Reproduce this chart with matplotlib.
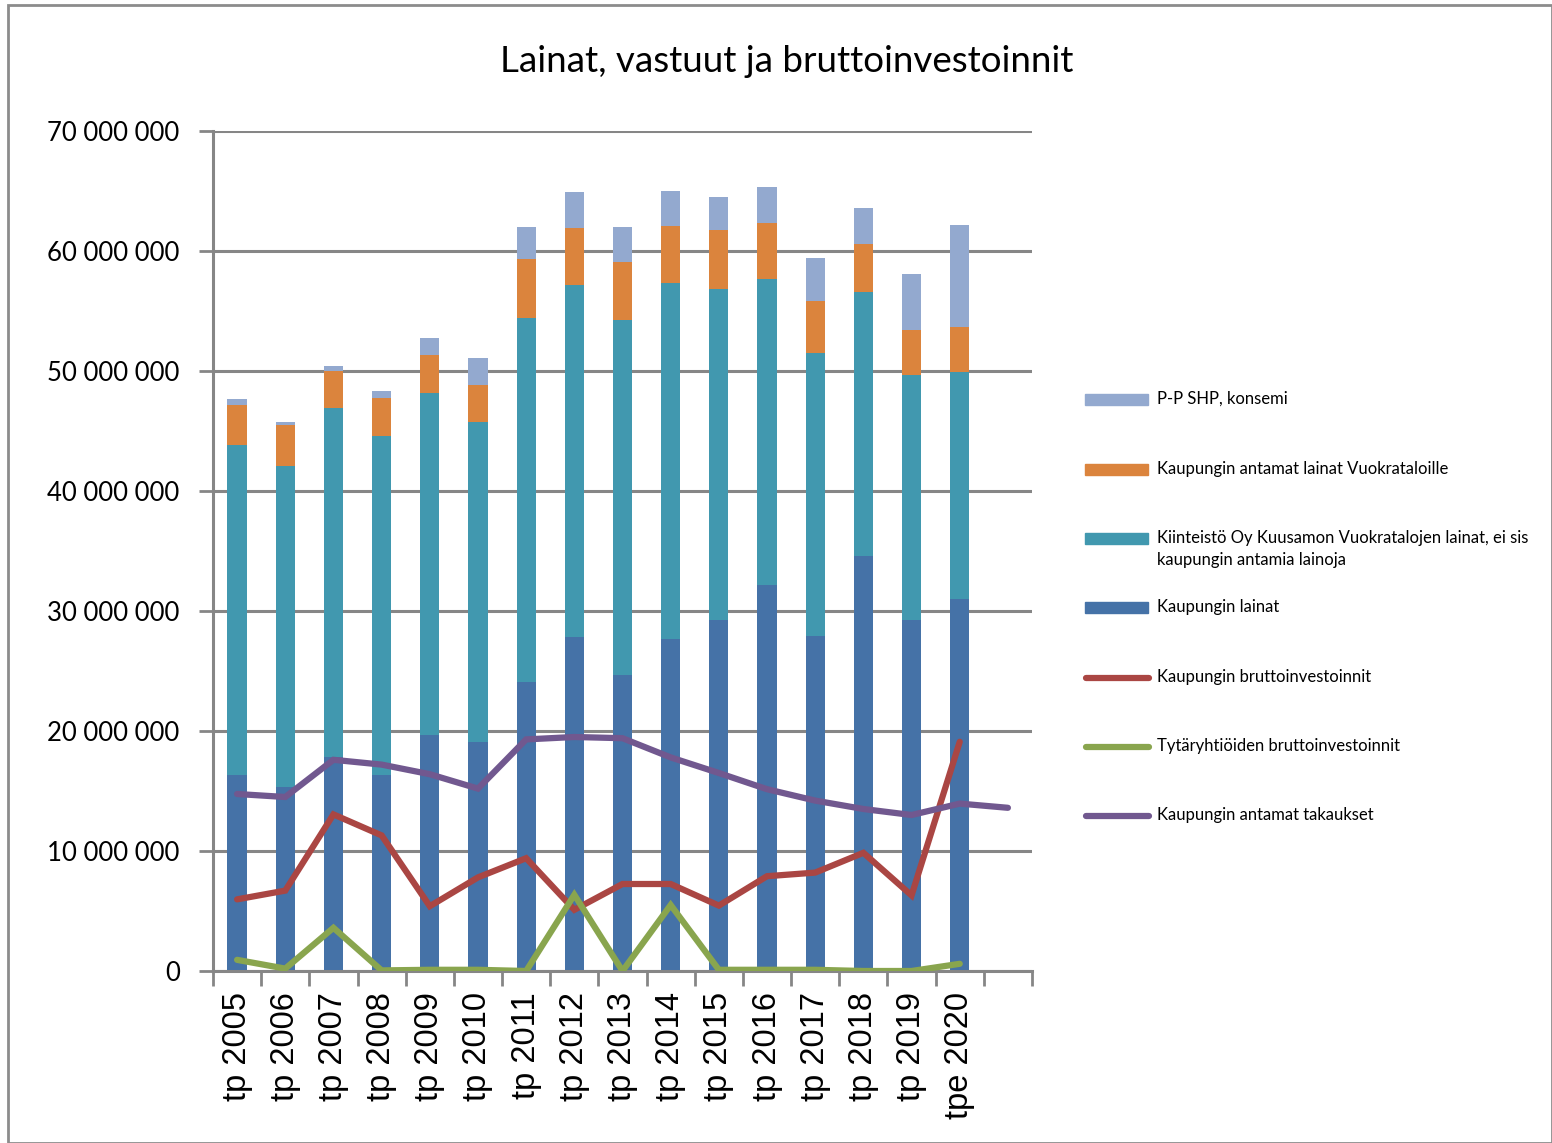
import numpy as np
import matplotlib.pyplot as plt
from matplotlib.patches import Rectangle
from matplotlib.lines import Line2D
from matplotlib.ticker import FuncFormatter, FixedLocator

# =============================================================================
# Data (values in millions of euros)
# =============================================================================
years = ['tp 2005', 'tp 2006', 'tp 2007', 'tp 2008', 'tp 2009', 'tp 2010',
         'tp 2011', 'tp 2012', 'tp 2013', 'tp 2014', 'tp 2015', 'tp 2016',
         'tp 2017', 'tp 2018', 'tp 2019', 'tpe 2020']

# stacked bar segments
kaupungin_lainat = [16.3, 15.3, 17.8, 16.3, 19.7, 19.1, 24.1, 27.8,
                    24.7, 27.65, 29.25, 32.2, 27.95, 34.6, 29.25, 31.0]
vuokratalot_lainat = [27.5, 26.8, 29.1, 28.3, 28.5, 26.65, 30.3, 29.4,
                      29.55, 29.65, 27.55, 25.5, 23.55, 22.0, 20.45, 18.9]
lainat_vuokrataloille = [3.4, 3.4, 3.1, 3.15, 3.1, 3.05, 4.9, 4.7,
                         4.85, 4.8, 4.95, 4.6, 4.3, 4.0, 3.7, 3.8]
pp_shp = [0.45, 0.25, 0.4, 0.55, 1.45, 2.3, 2.7, 3.0,
          2.9, 2.9, 2.75, 3.0, 3.6, 3.0, 4.7, 8.5]

# lines
bruttoinvestoinnit = [5.97, 6.7, 13.05, 11.3, 5.4, 7.8, 9.4, 5.1,
                      7.25, 7.25, 5.45, 7.9, 8.2, 9.85, 6.3, 19.1]
tytar_investoinnit = [0.93, 0.2, 3.6, 0.05, 0.1, 0.1, 0.0, 6.35,
                      0.0, 5.5, 0.1, 0.1, 0.1, 0.0, 0.0, 0.6]
takaukset = [14.75, 14.5, 17.6, 17.2, 16.4, 15.2, 19.3, 19.5,
             19.4, 17.8, 16.5, 15.15, 14.2, 13.5, 13.0, 13.95, 13.6]

labels = ['P-P SHP, konsemi',
          'Kaupungin antamat lainat Vuokrataloille',
          'Kiinteistö Oy Kuusamon Vuokratalojen lainat, ei sis\nkaupungin antamia lainoja',
          'Kaupungin lainat',
          'Kaupungin bruttoinvestoinnit',
          'Tytäryhtiöiden bruttoinvestoinnit',
          'Kaupungin antamat takaukset']

c_blue = '#4572A7'
c_teal = '#4198AF'
c_orange = '#DB843D'
c_light = '#93A9CF'
c_red = '#AA4643'
c_green = '#89A54E'
c_purple = '#71588F'
grid_col = '#868686'

# =============================================================================
# Plot
# =============================================================================
M = 1e6
fig = plt.figure(figsize=(15.52, 11.43), dpi=100)
ax = fig.add_axes([213 / 1552, 1 - 971 / 1143, (1032 - 213) / 1552, (971 - 131) / 1143])

x = np.arange(len(years))
b1 = np.array(kaupungin_lainat) * M
b2 = np.array(vuokratalot_lainat) * M
b3 = np.array(lainat_vuokrataloille) * M
b4 = np.array(pp_shp) * M
w = 0.4
ax.bar(x, b1, w, color=c_blue, zorder=2)
ax.bar(x, b2, w, bottom=b1, color=c_teal, zorder=2)
ax.bar(x, b3, w, bottom=b1 + b2, color=c_orange, zorder=2)
ax.bar(x, b4, w, bottom=b1 + b2 + b3, color=c_light, zorder=2)

lw = 4.5
ax.plot(x, np.array(bruttoinvestoinnit) * M, color=c_red, lw=lw, zorder=3,
        solid_joinstyle='miter', solid_capstyle='round')
ax.plot(x, np.array(tytar_investoinnit) * M, color=c_green, lw=lw, zorder=3,
        solid_joinstyle='miter', solid_capstyle='round')
ax.plot(np.arange(len(takaukset)), np.array(takaukset) * M, color=c_purple, lw=lw,
        zorder=3, solid_joinstyle='miter', solid_capstyle='round')

ax.set_xlim(-0.5, 16.5)
ax.set_ylim(0, 70 * M)
ax.set_yticks(np.arange(0, 71, 10) * M)
ax.yaxis.set_major_formatter(FuncFormatter(lambda v, p: f'{int(round(v)):,}'.replace(',', ' ')))
ax.grid(axis='y', color=grid_col, lw=2.2, zorder=1)
ax.set_axisbelow(True)

# tick marks on slot boundaries, labels at slot centres
ax.xaxis.set_major_locator(FixedLocator(np.arange(-0.5, 17, 1)))
ax.xaxis.set_minor_locator(FixedLocator(x))
ax.set_xticklabels([], minor=False)
ax.set_xticklabels(years, minor=True, rotation=90, fontsize=23.5,
                   family='Liberation Sans')
ax.tick_params(axis='x', which='major', length=11, width=2, color=grid_col)
ax.tick_params(axis='x', which='minor', length=0, pad=15)
ax.tick_params(axis='y', length=10, width=2, color=grid_col, labelsize=18.5, pad=14)
for lab in ax.get_yticklabels():
    lab.set_family('Lato')

for s in ['top', 'right']:
    ax.spines[s].set_visible(False)
for s in ['left', 'bottom']:
    ax.spines[s].set_color(grid_col)
    ax.spines[s].set_linewidth(2.2)

fig.text(0.507, 1 - 62 / 1143, 'Lainat, vastuut ja bruttoinvestoinnit',
         ha='center', va='center', fontsize=26.5, family='Lato')

# legend drawn by hand to follow the original spacing
leg_y = [400, 470, 539, 608, 678, 747, 816]
leg_col = [c_light, c_orange, c_teal, c_blue, c_red, c_green, c_purple]
for i, (yy, col, lab) in enumerate(zip(leg_y, leg_col, labels)):
    yf = 1 - yy / 1143
    if i < 4:
        fig.add_artist(Rectangle((1085 / 1552, yf - 5 / 1143), 63 / 1552, 11 / 1143,
                                 transform=fig.transFigure, color=col))
    else:
        fig.add_artist(Line2D([1086 / 1552, 1149 / 1552], [yf, yf], color=col, lw=lw,
                              solid_capstyle='round', transform=fig.transFigure))
    fig.text(1157 / 1552, yf + 9 / 1143, lab, ha='left', va='top', fontsize=12,
             family='Lato', linespacing=1.45)

# outer chart border
fig.add_artist(Rectangle((8 / 1552, 0), 1 - 8 / 1552, 1 - 5 / 1143, transform=fig.transFigure,
                         fill=False, edgecolor='#8c8c8c', lw=2))

fig.savefig('out.png', dpi=100)
